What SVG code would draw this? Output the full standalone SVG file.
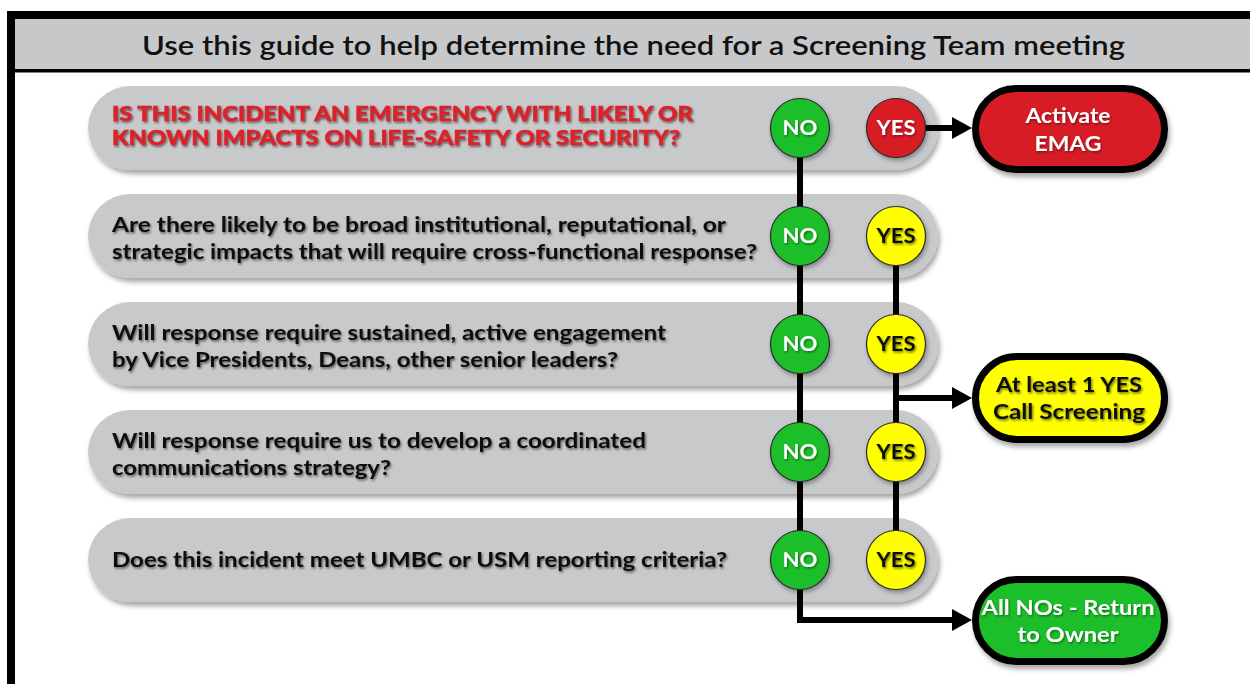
<svg xmlns="http://www.w3.org/2000/svg" width="1250" height="684" viewBox="0 0 1250 684">
  <defs>
    <style>
      .frame { fill: #000; }
      .band { fill: #c7c8ca; }
      .title { font-family: Lato, "Open Sans", "Liberation Sans", sans-serif; font-weight: 600; font-size: 27px; fill: #111; }
      .pill { fill: #c8c9cb; filter: url(#pillShadow); }
      .q { font-family: Lato, "Open Sans", "Liberation Sans", sans-serif; font-weight: 700; font-size: 21.5px; fill: #111; filter: url(#textShadow); }
      .qred { font-family: Lato, "Open Sans", "Liberation Sans", sans-serif; font-weight: 900; font-size: 21px; fill: #d9232b; stroke: #d9232b; stroke-width: 0.5; filter: url(#textShadow); }
      .dot { stroke: #2a2a2a; stroke-width: 1.2; filter: url(#dotShadow); }
      .green { fill: #1fbf2b; }
      .red { fill: #d81f27; }
      .yellow { fill: #ffff00; }
      .dtxt { font-family: Lato, "Open Sans", "Liberation Sans", sans-serif; font-weight: 700; font-size: 20px; text-anchor: middle; }
      .light { fill: #fff; filter: url(#softShadow); }
      .dark { fill: #111; filter: url(#textShadow); }
      .box { stroke: #000; stroke-width: 7; filter: url(#pillShadow); }
      .btxt { font-family: Lato, "Open Sans", "Liberation Sans", sans-serif; font-weight: 700; font-size: 21px; text-anchor: middle; }
      .wire { fill: none; stroke: #000; stroke-width: 6; stroke-linejoin: miter; }
    </style>
    <filter id="pillShadow" x="-5%" y="-20%" width="115%" height="150%">
      <feDropShadow dx="2" dy="4" stdDeviation="2.5" flood-color="#000" flood-opacity="0.35"/>
    </filter>
    <filter id="dotShadow" x="-20%" y="-20%" width="150%" height="150%">
      <feDropShadow dx="1.5" dy="2.5" stdDeviation="2" flood-color="#000" flood-opacity="0.35"/>
    </filter>
    <filter id="textShadow" x="-5%" y="-30%" width="115%" height="170%">
      <feDropShadow dx="1.2" dy="1.6" stdDeviation="1" flood-color="#000" flood-opacity="0.55"/>
    </filter>
    <filter id="softShadow" x="-10%" y="-30%" width="130%" height="170%">
      <feDropShadow dx="1" dy="1.4" stdDeviation="0.9" flood-color="#000" flood-opacity="0.45"/>
    </filter>
    <marker id="head" markerUnits="userSpaceOnUse" markerWidth="20" markerHeight="22" refX="0" refY="11" orient="auto">
      <path d="M0,0 L20,11 L0,22 z" fill="#000"/>
    </marker>
  </defs>

  <rect width="1250" height="684" fill="#fff"/>

  <!-- outer frame and title band -->
  <g id="frame">
    <rect class="band" x="15" y="19" width="1235" height="50"/>
    <rect class="frame" x="7" y="11" width="1243" height="8"/>
    <rect class="frame" x="7" y="11" width="8" height="673"/>
    <rect class="frame" x="15" y="69" width="1235" height="3.5"/>
    <text class="title" x="142" y="55" textLength="983" lengthAdjust="spacingAndGlyphs">Use this guide to help determine the need for a Screening Team meeting</text>
  </g>

  <!-- question rows -->
  <g id="row1">
    <rect class="pill" x="88" y="86" width="850" height="84" rx="42"/>
    <text class="qred" x="112" y="121" textLength="581" lengthAdjust="spacingAndGlyphs">IS THIS INCIDENT AN EMERGENCY WITH LIKELY OR</text>
    <text class="qred" x="112" y="145" textLength="568" lengthAdjust="spacingAndGlyphs">KNOWN IMPACTS ON LIFE-SAFETY OR SECURITY?</text>
  </g>
  <g id="row2">
    <rect class="pill" x="88" y="194" width="850" height="84" rx="42"/>
    <text class="q" x="112" y="232" textLength="614" lengthAdjust="spacingAndGlyphs">Are there likely to be broad institutional, reputational, or</text>
    <text class="q" x="112" y="259" textLength="645" lengthAdjust="spacingAndGlyphs">strategic impacts that will require cross-functional response?</text>
  </g>
  <g id="row3">
    <rect class="pill" x="88" y="302" width="850" height="84" rx="42"/>
    <text class="q" x="112" y="340" textLength="554" lengthAdjust="spacingAndGlyphs">Will response require sustained, active engagement</text>
    <text class="q" x="112" y="367" textLength="506" lengthAdjust="spacingAndGlyphs">by Vice Presidents, Deans, other senior leaders?</text>
  </g>
  <g id="row4">
    <rect class="pill" x="88" y="410" width="850" height="84" rx="42"/>
    <text class="q" x="112" y="448" textLength="534" lengthAdjust="spacingAndGlyphs">Will response require us to develop a coordinated</text>
    <text class="q" x="112" y="475" textLength="279" lengthAdjust="spacingAndGlyphs">communications strategy?</text>
  </g>
  <g id="row5">
    <rect class="pill" x="88" y="518" width="850" height="84" rx="42"/>
    <text class="q" x="112" y="567" textLength="615" lengthAdjust="spacingAndGlyphs">Does this incident meet UMBC or USM reporting criteria?</text>
  </g>

  <!-- connectors -->
  <g id="connectors">
    <path class="wire" d="M800,128 V620 H952" marker-end="url(#head)"/>
    <path class="wire" d="M896,236 V560"/>
    <path class="wire" d="M896,398 H952" marker-end="url(#head)"/>
    <path class="wire" d="M896,128 H952" marker-end="url(#head)"/>
  </g>

  <!-- answer dots -->
  <g id="no1"><circle class="dot green" cx="800" cy="128" r="29.5"/><text class="dtxt light" x="800" y="135" textLength="35" lengthAdjust="spacingAndGlyphs">NO</text></g>
  <g id="yes1"><circle class="dot red" cx="896" cy="128" r="29.5"/><text class="dtxt light" x="896" y="135" textLength="39" lengthAdjust="spacingAndGlyphs">YES</text></g>
  <g id="no2"><circle class="dot green" cx="800" cy="236" r="29.5"/><text class="dtxt light" x="800" y="243" textLength="35" lengthAdjust="spacingAndGlyphs">NO</text></g>
  <g id="yes2"><circle class="dot yellow" cx="896" cy="236" r="29.5"/><text class="dtxt dark" x="896" y="243" textLength="39" lengthAdjust="spacingAndGlyphs">YES</text></g>
  <g id="no3"><circle class="dot green" cx="800" cy="344" r="29.5"/><text class="dtxt light" x="800" y="351" textLength="35" lengthAdjust="spacingAndGlyphs">NO</text></g>
  <g id="yes3"><circle class="dot yellow" cx="896" cy="344" r="29.5"/><text class="dtxt dark" x="896" y="351" textLength="39" lengthAdjust="spacingAndGlyphs">YES</text></g>
  <g id="no4"><circle class="dot green" cx="800" cy="452" r="29.5"/><text class="dtxt light" x="800" y="459" textLength="35" lengthAdjust="spacingAndGlyphs">NO</text></g>
  <g id="yes4"><circle class="dot yellow" cx="896" cy="452" r="29.5"/><text class="dtxt dark" x="896" y="459" textLength="39" lengthAdjust="spacingAndGlyphs">YES</text></g>
  <g id="no5"><circle class="dot green" cx="800" cy="560" r="29.5"/><text class="dtxt light" x="800" y="567" textLength="35" lengthAdjust="spacingAndGlyphs">NO</text></g>
  <g id="yes5"><circle class="dot yellow" cx="896" cy="560" r="29.5"/><text class="dtxt dark" x="896" y="567" textLength="39" lengthAdjust="spacingAndGlyphs">YES</text></g>

  <!-- outcome boxes -->
  <g id="emag">
    <rect class="box red" x="975.5" y="88.5" width="189" height="81" rx="40.5"/>
    <text class="btxt light" x="1068" y="123" textLength="85" lengthAdjust="spacingAndGlyphs">Activate</text>
    <text class="btxt light" x="1068" y="151" textLength="67" lengthAdjust="spacingAndGlyphs">EMAG</text>
  </g>
  <g id="screening">
    <rect class="box yellow" x="975.5" y="356.5" width="189" height="83" rx="41.5"/>
    <text class="btxt dark" x="1069" y="392" textLength="146" lengthAdjust="spacingAndGlyphs">At least 1 YES</text>
    <text class="btxt dark" x="1069" y="419" textLength="152" lengthAdjust="spacingAndGlyphs">Call Screening</text>
  </g>
  <g id="owner">
    <rect class="box green" x="975.5" y="579.5" width="189" height="82" rx="41"/>
    <text class="btxt light" x="1068" y="615" textLength="173" lengthAdjust="spacingAndGlyphs">All NOs - Return</text>
    <text class="btxt light" x="1068" y="642" textLength="101" lengthAdjust="spacingAndGlyphs">to Owner</text>
  </g>
</svg>
